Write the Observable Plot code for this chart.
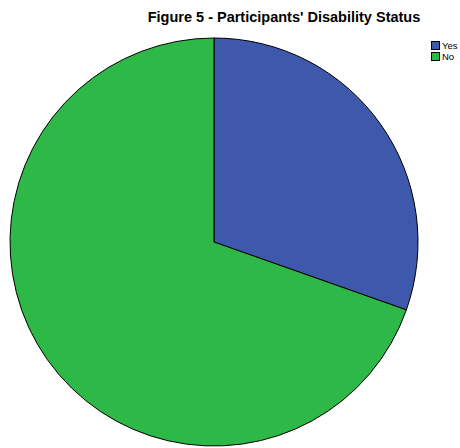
<!DOCTYPE html>
<html>
<head>
<meta charset="utf-8">
<script src="https://cdn.jsdelivr.net/npm/d3@7"></script>
<script src="https://cdn.jsdelivr.net/npm/@observablehq/plot@0.6"></script>
<style>
  html, body { margin: 0; padding: 0; background: #fff; }
  #wrap { position: relative; width: 460px; height: 448px; }
  #title { position: absolute; left: 0; width: 568px; top: 9px; text-align: center;
           font-family: "Liberation Sans", Arial, sans-serif; font-weight: bold; font-size: 14.5px; color: #000; }
  #legend { position: absolute; left: 431px; top: 40px; font-family: "Liberation Sans", Arial, sans-serif; font-size: 9.5px; }
  .item { display: flex; align-items: center; height: 11px; }
  .sw { border: 1px solid #000; margin-right: 2px; box-sizing: border-box; width: 9px; height: 9px; }
  #chart { position: absolute; left: 0; top: 0; }
</style>
</head>
<body>
<div id="wrap">
  <div id="chart"></div>
  <div id="title">Figure 5 - Participants' Disability Status</div>
  <div id="legend"></div>
</div>
<script>
const categories = ["Yes", "No"];
const values = [30.4, 69.6];
const colors = ["#3e58ac", "#2eb848"];

const data = categories.map((c, i) => ({category: c, value: values[i]}));
const arcs = d3.pie().sort(null).value(d => d.value)(data);

function pieMark(index, scales, vals, dimensions, context) {
  const cx = scales.x(0), cy = scales.y(0);
  const r = Math.abs(scales.x(1) - scales.x(0));
  const arcGen = d3.arc().innerRadius(0).outerRadius(r);
  const g = d3.create("svg:g").attr("transform", `translate(${cx},${cy})`);
  g.selectAll("path").data(arcs).join("path")
    .attr("d", arcGen)
    .attr("fill", d => scales.color(d.data.category))
    .attr("stroke", "#000")
    .attr("stroke-width", 1);
  return g.node();
}

const chart = Plot.plot({
  width: 460,
  height: 448,
  margin: 0,
  x: {domain: [-1, 1], range: [10, 418], axis: null},
  y: {domain: [-1, 1], range: [446, 38], axis: null},
  color: {domain: categories, range: colors},
  marks: [pieMark]
});
document.getElementById("chart").appendChild(chart);

const legend = document.getElementById("legend");
categories.forEach((c, i) => {
  const it = document.createElement("div");
  it.className = "item";
  const sw = document.createElement("div");
  sw.className = "sw";
  sw.style.background = colors[i];
  const t = document.createElement("span");
  t.textContent = c;
  it.appendChild(sw); it.appendChild(t);
  legend.appendChild(it);
});
</script>
</body>
</html>
